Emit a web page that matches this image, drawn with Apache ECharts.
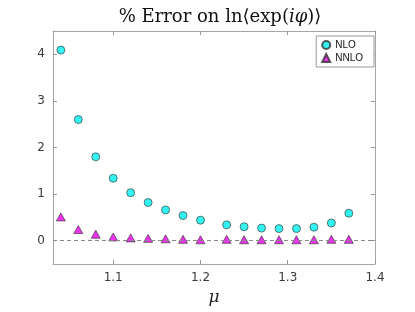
<!DOCTYPE html>
<html><head><meta charset="utf-8">
<script src="https://cdn.jsdelivr.net/npm/echarts@6/dist/echarts.min.js"></script>
<style>html,body{margin:0;padding:0;background:#fff}#c{width:415px;height:312px}</style>
</head><body><div id="c"></div>
<script>
const mu = [1.04,1.06,1.08,1.10,1.12,1.14,1.16,1.18,1.20,1.23,1.25,1.27,1.29,1.31,1.33,1.35,1.37];
const nlo = [4.09,2.60,1.80,1.34,1.03,0.82,0.66,0.54,0.44,0.34,0.30,0.27,0.26,0.26,0.29,0.38,0.59];
const nnlo = [0.51,0.24,0.14,0.08,0.06,0.05,0.04,0.03,0.02,0.03,0.02,0.02,0.02,0.02,0.02,0.03,0.03];
const xTicks = [1.1,1.2,1.3,1.4];
const yTicks = [0,1,2,3,4];

const chart = echarts.init(document.getElementById('c'), null, {renderer:'canvas'});
const axisCol = '#a6a6a6';
const lab = {fontFamily:'DejaVu Sans', fontSize:12, color:'#3a3a3a'};
function xa(pos, show){
  return {type:'value', position:pos, min:1.031, max:1.4,
    axisLine:{show:true, onZero:false, lineStyle:{color:axisCol,width:1}},
    axisTick:{show:true, inside:true, length:4, customValues:xTicks, lineStyle:{color:'#999'}},
    axisLabel:{show:show, customValues:xTicks, margin:8, ...lab, formatter:v=>v.toFixed(1)},
    splitLine:{show:false}};
}
function ya(pos, show){
  return {type:'value', position:pos, min:-0.5, max:4.5,
    axisLine:{show:true, onZero:false, lineStyle:{color:axisCol,width:1}},
    axisTick:{show:true, inside:true, length:4, customValues:yTicks, lineStyle:{color:'#999'}},
    axisLabel:{show:show, customValues:yTicks, margin:8, ...lab},
    splitLine:{show:false}};
}
chart.setOption({
  animation:false,
  title:{text:'{n|% Error on ln⟨exp(}{i|iφ}{n|)⟩}', left:215, textAlign:'center', top:3,
    textStyle:{fontWeight:'normal', rich:{n:{fontFamily:'DejaVu Serif', fontWeight:'normal', fontSize:18, color:'#111'},
                     i:{fontFamily:'DejaVu Serif', fontWeight:'normal', fontStyle:'italic', fontSize:18, color:'#111'}}}},
  grid:{left:53, right:40, top:31, bottom:48},
  xAxis:[Object.assign(xa('bottom', true), {name:'μ', nameLocation:'middle', nameGap:24,
          nameTextStyle:{fontFamily:'DejaVu Serif', fontStyle:'italic', fontSize:17, color:'#222'}}),
         xa('top', false)],
  yAxis:[ya('left', true), ya('right', false)],
  legend:{orient:'vertical', right:41, top:36, itemWidth:8, itemHeight:8, itemGap:3,
    padding:[4,11,4,5], borderColor:'#999', borderWidth:1, backgroundColor:'#fff',
    textStyle:{fontFamily:'Liberation Sans', fontSize:10, color:'#111', padding:[0,0,0,0]},
    data:['NLO','NNLO']},
  series:[
    {name:'NLO', type:'scatter', symbol:'circle', symbolSize:8,
      data:mu.map((m,i)=>[m,nlo[i]]),
      itemStyle:{color:'#00f0f0', borderColor:'#333', borderWidth:0.8},
      markLine:{silent:true, symbol:'none', label:{show:false},
        lineStyle:{color:'#888', type:[4,3], width:1}, data:[{yAxis:0}]}, z:3},
    {name:'NNLO', type:'scatter', symbol:'triangle', symbolSize:[9,8],
      data:mu.map((m,i)=>[m,nnlo[i]]),
      itemStyle:{color:'#e600e6', borderColor:'#333', borderWidth:0.8}, z:4}
  ]
});
</script></body></html>
